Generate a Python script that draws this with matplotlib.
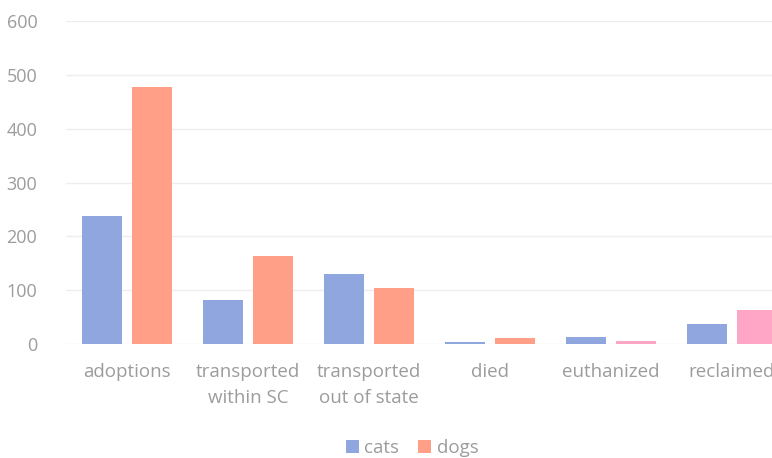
import matplotlib.pyplot as plt
import numpy as np

categories = ["adoptions", "transported\nwithin SC", "transported\nout of state",
              "died", "euthanized", "reclaimed"]
cats = [238, 82, 130, 3, 13, 37]
dogs = [478, 164, 104, 11, 6, 63]
yticks = [0, 100, 200, 300, 400, 500, 600]

cat_color = "#8fa7de"
dog_colors = ["#ff9f87", "#ff9f87", "#ff9f87", "#ff9f87", "#ffa5c6", "#ffa5c6"]
text_color = "#9c9c9c"

plt.rcParams['font.family'] = ['Open Sans', 'DejaVu Sans']

fig = plt.figure(figsize=(7.72, 4.58), dpi=100)
ax = fig.add_axes([0.0861, 0.2489, 0.9404, 0.7052])

x = np.arange(len(categories))
w = 0.33
off = 0.207
ax.bar(x - off, cats, width=w, color=cat_color, label="cats", zorder=2)
ax.bar(x + off, dogs, width=w, color=dog_colors, label="dogs", zorder=2)

ax.set_xlim(-0.5, len(categories) - 0.5)
ax.set_ylim(0, 600)
ax.set_yticks(yticks)
ax.set_xticks(x)
ax.set_xticklabels(categories, linespacing=1.55, fontsize=13.5)
ax.grid(axis='y', color="#eeeeee", linewidth=1, zorder=0)
ax.set_axisbelow(True)
for s in ax.spines.values():
    s.set_visible(False)
ax.tick_params(axis='y', length=0, labelsize=13, labelcolor=text_color, pad=21)
ax.tick_params(axis='x', length=0, labelcolor=text_color, pad=14)

handles, labels = ax.get_legend_handles_labels()
fig.legend(handles, labels, loc='center', bbox_to_anchor=(0.534, 0.022), ncol=2,
           frameon=False, fontsize=13.5, labelcolor=text_color,
           handlelength=0.7, handleheight=0.7, handletextpad=0.3, columnspacing=1.0)

fig.savefig("out.png", dpi=100)
